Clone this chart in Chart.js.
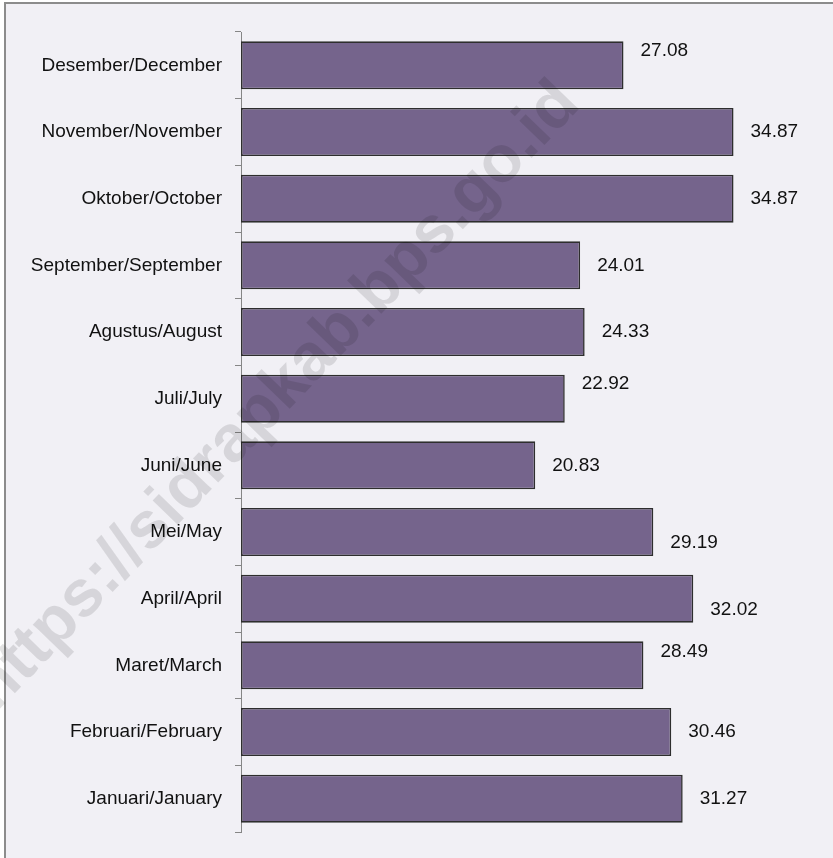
<!DOCTYPE html>
<html>
<head>
<meta charset="utf-8">
<script src="https://cdn.jsdelivr.net/npm/chart.js@4/dist/chart.umd.min.js"></script>
<style>
    body { margin: 0; background: #ffffff; }
    #frame {
        position: absolute; left: 4px; top: 2px;
        width: 900px; height: 900px;
        border: 2px solid #8c8c8c;
        background: #f1f0f5;
    }
    #wrap { position: absolute; left: 0; top: 0; width: 833px; height: 858px; }
</style>
</head>
<body>
<div id="frame"></div>
<div id="wrap"><canvas id="barChart"></canvas></div>
<script>
// data, januari first (reverse axis puts it at the bottom)
const months = [
    'Januari/January', 'Februari/February', 'Maret/March', 'April/April',
    'Mei/May', 'Juni/June', 'Juli/July', 'Agustus/August',
    'September/September', 'Oktober/October', 'November/November', 'Desember/December'
];
const values = [31.27, 30.46, 28.49, 32.02, 29.19, 20.83, 22.92, 24.33, 24.01, 34.87, 34.87, 27.08];
// small vertical shift of each value label (px), like the original layout
const labelShift = [0, 0, -14, 11, 11, 0, -15, 0, 0, 0, 0, -15];

const FONT = '"Liberation Sans", Arial, sans-serif';

// value labels to the right of each bar
const valueLabels = {
    id: 'valueLabels',
    afterDatasetsDraw(chart) {
        const ctx = chart.ctx;
        const meta = chart.getDatasetMeta(0);
        ctx.save();
        ctx.font = '19px ' + FONT;
        ctx.fillStyle = '#111111';
        ctx.textAlign = 'left';
        ctx.textBaseline = 'middle';
        meta.data.forEach((bar, i) => {
            ctx.fillText(values[i].toFixed(2), bar.x + 17, bar.y + labelShift[i]);
        });
        ctx.restore();
    }
};

// faint diagonal watermark over everything
const watermark = {
    id: 'watermark',
    afterDraw(chart) {
        const ctx = chart.ctx;
        ctx.save();
        ctx.translate(-17, 700);
        ctx.rotate(-46 * Math.PI / 180);
        ctx.font = 'bold 66px ' + FONT;
        ctx.fillStyle = 'rgba(0, 0, 0, 0.11)';
        ctx.textAlign = 'left';
        ctx.textBaseline = 'middle';
        ctx.fillText('https://sidrapkab.bps.go.id', 0, 0);
        ctx.restore();
    }
};

const ctx = document.getElementById('barChart').getContext('2d');

new Chart(ctx, {
    type: 'bar',
    data: {
        labels: months,
        datasets: [{
            data: values,
            backgroundColor: '#75648c',
            borderColor: '#2e2e2e',
            borderWidth: 1.6,
            borderSkipped: false,
            categoryPercentage: 1,
            barPercentage: 0.72
        }]
    },
    options: {
        indexAxis: 'y',
        responsive: true,
        maintainAspectRatio: false,
        animation: false,
        layout: {
            padding: { left: 0, top: 32, right: 27, bottom: 26 }
        },
        plugins: {
            legend: { display: false },
            tooltip: { enabled: false }
        },
        scales: {
            x: {
                display: false,
                min: 0,
                max: 40
            },
            y: {
                reverse: true,
                offset: true,
                afterFit: (scale) => { scale.width = 241; },
                border: { display: true, color: '#868686', width: 1 },
                grid: {
                    offset: true,
                    drawOnChartArea: false,
                    drawTicks: true,
                    tickLength: 6,
                    tickColor: '#868686'
                },
                ticks: {
                    autoSkip: false,
                    padding: 13,
                    color: '#111111',
                    font: { family: FONT, size: 19 }
                }
            }
        }
    },
    plugins: [valueLabels, watermark]
});
</script>
</body>
</html>
